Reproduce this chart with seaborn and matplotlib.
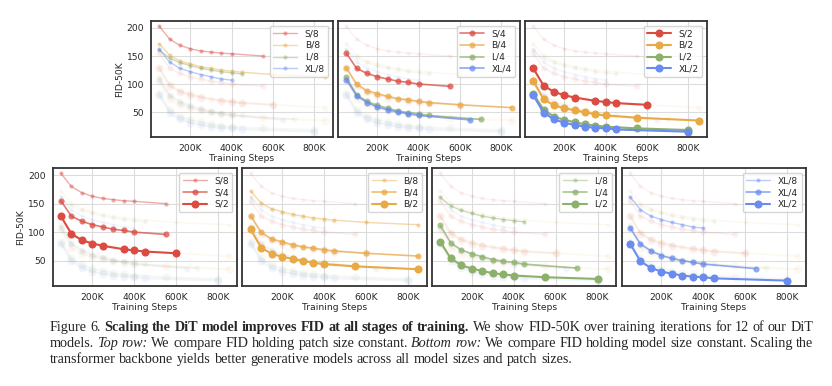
import matplotlib
matplotlib.use("Agg")
import matplotlib.pyplot as plt
import seaborn as sns
import pandas as pd

# FID-50K vs training steps (K)
steps_S8 = [50, 100, 150, 200, 250, 300, 350, 400, 550]
fid_S8 = [203, 180, 169, 163, 159, 157, 155, 154, 150]
steps_S4 = [50, 100, 150, 200, 250, 300, 350, 400, 550]
fid_S4 = [155, 128, 119, 113, 109, 105, 103, 100, 96]
steps_S2 = [50, 100, 150, 200, 250, 350, 400, 450, 600]
fid_S2 = [128, 97, 86, 80, 76, 70, 68, 66, 63]

steps_B8 = [50, 100, 150, 200, 250, 300, 350, 400, 450, 600, 850]
fid_B8 = [172, 151, 141, 136, 131, 128, 125, 123, 121, 117, 113]
steps_B4 = [50, 100, 150, 200, 250, 300, 350, 400, 450, 600, 850]
fid_B4 = [129, 100, 88, 83, 78, 74, 72, 69, 67, 63, 58]
steps_B2 = [50, 100, 150, 200, 250, 300, 350, 400, 550, 850]
fid_B2 = [105, 73, 62, 57, 53, 50, 46, 44, 40, 35]

steps_L8 = [50, 100, 150, 200, 250, 300, 350, 400, 450]
fid_L8 = [161, 146, 138, 133, 128, 125, 122, 120, 118]
steps_L4 = [50, 100, 150, 200, 250, 300, 350, 400, 450, 700]
fid_L4 = [112, 81, 69, 62, 57, 52, 49, 47, 44, 37]
steps_L2 = [50, 100, 150, 200, 250, 300, 350, 400, 550, 800]
fid_L2 = [83, 54, 42, 36, 32, 28, 26, 24, 21, 18]

steps_XL8 = [50, 100, 150, 200, 250, 300, 350, 400]
fid_XL8 = [162, 139, 128, 122, 117, 113, 109, 107]
steps_XL4 = [50, 100, 150, 200, 250, 300, 350, 400, 650]
fid_XL4 = [108, 79, 67, 59, 54, 50, 47, 44, 36]
steps_XL2 = [50, 100, 150, 200, 250, 300, 350, 400, 450, 800]
fid_XL2 = [80, 49, 37, 31, 27, 24, 22, 21, 19, 15]

models = ["S", "B", "L", "XL"]
patches = ["8", "4", "2"]

series = {
    "S/8": (steps_S8, fid_S8), "S/4": (steps_S4, fid_S4), "S/2": (steps_S2, fid_S2),
    "B/8": (steps_B8, fid_B8), "B/4": (steps_B4, fid_B4), "B/2": (steps_B2, fid_B2),
    "L/8": (steps_L8, fid_L8), "L/4": (steps_L4, fid_L4), "L/2": (steps_L2, fid_L2),
    "XL/8": (steps_XL8, fid_XL8), "XL/4": (steps_XL4, fid_XL4), "XL/2": (steps_XL2, fid_XL2),
}

rows = []
for name, (xs, ys) in series.items():
    m, p = name.split("/")
    for x, y in zip(xs, ys):
        rows.append({"name": name, "model": m, "patch": p, "step": x * 1000, "fid": y})
df = pd.DataFrame(rows)

colors = {"S": "#db4b42", "B": "#e9a945", "L": "#8db16b", "XL": "#6a8cf0"}
patch_alpha = {"8": 0.45, "4": 0.75, "2": 1.0}
patch_ms = {"8": 3.0, "4": 4.4, "2": 5.8}
patch_lw = {"8": 1.0, "4": 1.2, "2": 1.5}

sns.set_style("whitegrid", {"axes.edgecolor": "#333333", "grid.color": "#dcdcdc"})
plt.rcParams["font.family"] = ["DejaVu Sans"]

fig = plt.figure(figsize=(8.32, 3.86), dpi=100)
W, H = 832, 386


def add_ax(left, top, width, height):
    return fig.add_axes([left / W, 1 - (top + height) / H, width / W, height / H])


panels = []
for i, p in enumerate(patches):
    ax = add_ax(151 + i * 187, 21, 182, 116)
    panels.append((ax, [m + "/" + p for m in models], i == 0))
for i, m in enumerate(models):
    ax = add_ax(52.5 + i * 189.7, 168, 184.5, 118)
    panels.append((ax, [m + "/" + p for p in patches], i == 0))

for ax, highlight, first in panels:
    for name in series:
        if name in highlight:
            continue
        d = df[df["name"] == name]
        m, p = name.split("/")
        sns.lineplot(data=d, x="step", y="fid", ax=ax, color=colors[m], marker="o",
                     markersize=patch_ms[p], linewidth=patch_lw[p], alpha=0.08,
                     markeredgewidth=0, legend=False)
    for name in highlight:
        d = df[df["name"] == name]
        m, p = name.split("/")
        sns.lineplot(data=d, x="step", y="fid", ax=ax, color=colors[m], marker="o",
                     markersize=patch_ms[p], linewidth=patch_lw[p], alpha=patch_alpha[p],
                     markeredgewidth=0, label=name)
    ax.set_xticks([200000, 400000, 600000, 800000])
    ax.set_xticklabels(["200K", "400K", "600K", "800K"])
    ax.set_yticks([50, 100, 150, 200])
    ax.tick_params(labelsize=6.6, pad=1.5)
    ax.set_xlabel("Training Steps", fontsize=6.6, labelpad=1)
    if first:
        ax.set_ylabel("FID-50K", fontsize=6.6, labelpad=2)
    else:
        ax.set_ylabel("")
        ax.set_yticklabels([])
    for s in ax.spines.values():
        s.set_linewidth(1.3)
    ax.legend(loc="upper right", fontsize=6.6, frameon=True, edgecolor="#cccccc",
              handlelength=2.6, borderpad=0.4, labelspacing=0.3, handletextpad=0.8)

# caption, justified
cap_size = 10.2
cap_lines = [
    [("Figure 6.", "normal", "normal"),
     ("Scaling the DiT model improves FID at all stages of training.", "bold", "normal"),
     ("We show FID-50K over training iterations for 12 of our DiT", "normal", "normal")],
    [("models.", "normal", "normal"), ("Top row:", "normal", "italic"),
     ("We compare FID holding patch size constant.", "normal", "normal"),
     ("Bottom row:", "normal", "italic"),
     ("We compare FID holding model size constant. Scaling the", "normal", "normal")],
    [("transformer backbone yields better generative models across all model sizes and patch sizes.",
      "normal", "normal")],
]
renderer = fig.canvas.get_renderer()
x0, x1 = 50, 813
line_y = [331, 347, 363]
for li, segs in enumerate(cap_lines):
    words = []
    for text, weight, style in segs:
        for w in text.split(" "):
            words.append((w, weight, style))
    arts = []
    total = 0
    for w, weight, style in words:
        t = fig.text(0, 0, w, fontsize=cap_size, family="Liberation Serif",
                     fontweight=weight, fontstyle=style, va="baseline", ha="left")
        wpx = t.get_window_extent(renderer).width
        arts.append((t, wpx))
        total += wpx
    if li < len(cap_lines) - 1:
        gap = (x1 - x0 - total) / (len(words) - 1)
    else:
        gap = cap_size * 100 / 72 * 0.25
    x = x0
    for t, wpx in arts:
        t.set_position((x / W, 1 - line_y[li] / H))
        x += wpx + gap

fig.savefig("out.png", dpi=100)
